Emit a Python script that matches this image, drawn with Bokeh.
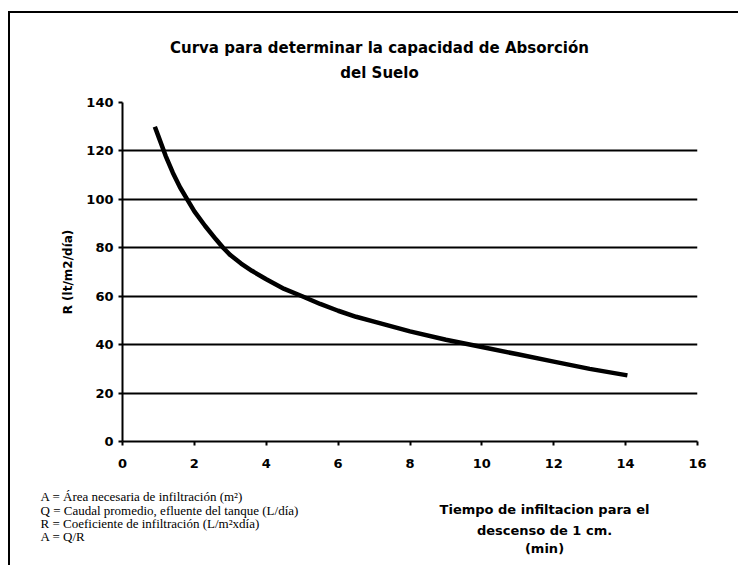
from bokeh.plotting import figure
from bokeh.models import Range1d, FixedTicker
from bokeh.layouts import column
from bokeh.core.properties import value
from bokeh.embed import file_html
from bokeh.resources import INLINE

# Data
tiempo = [0.9, 1.0, 1.2, 1.4, 1.6, 1.8, 2.0, 2.3, 2.6, 2.8, 3.0, 3.3, 3.6, 4.0, 4.5, 5.0, 5.5, 6.0,
          6.5, 7.0, 8.0, 9.0, 10.0, 11.0, 12.0, 13.0, 14.05]
coef_r = [130, 126, 118, 111, 105, 100, 95, 89, 83.5, 80, 77, 73.5, 70.5, 67, 63, 60, 56.8, 54,
          51.5, 49.5, 45.5, 42, 39, 36, 33, 30, 27.3]

x_ticks = [0, 2, 4, 6, 8, 10, 12, 14, 16]
y_ticks = [0, 20, 40, 60, 80, 100, 120, 140]
grid_ticks = [20, 40, 60, 80, 100, 120]

title_lines = ["Curva para determinar la capacidad de Absorción", "del Suelo"]
x_title_lines = ["Tiempo de infiltacion para el", "descenso de 1 cm.", "(min)"]
y_title = "R (lt/m2/día)"
notas = [
    "A = Área necesaria de infiltración (m²)",
    "Q = Caudal promedio, efluente del tanque (L/día)",
    "R = Coeficiente de infiltración (L/m²xdía)",
    "A = Q/R",
]

W = 728
TOP_H, MAIN_H, BOT_H = 75, 392, 85
SANS = "DejaVu Sans"


def blank(h):
    f = figure(width=W, height=h, output_backend="svg", toolbar_location=None,
               x_range=Range1d(0, W), y_range=Range1d(h, 0), min_border=0,
               frame_align=False)
    f.axis.visible = False
    f.grid.visible = False
    f.outline_line_color = None
    f.background_fill_color = "white"
    f.border_fill_color = "white"
    return f


# ---- title panel
top = blank(TOP_H)
top.text(x=[369, 369], y=[34, 59], text=title_lines, text_align="center",
         text_baseline="middle", text_font=value(SANS),
         text_font_style="bold", text_font_size="15px", text_color="black")

# ---- main chart
p = figure(width=W, height=MAIN_H, output_backend="svg", toolbar_location=None,
           x_range=Range1d(0, 16), y_range=Range1d(0, 140), frame_align=False,
           min_border_left=112, min_border_right=41, min_border_top=14, min_border_bottom=39)
p.outline_line_color = None
p.background_fill_color = "white"
p.border_fill_color = "white"

p.xgrid.visible = False
p.ygrid.ticker = FixedTicker(ticks=grid_ticks)
p.ygrid.grid_line_color = "black"
p.ygrid.grid_line_width = 2

p.xaxis.ticker = FixedTicker(ticks=x_ticks)
p.yaxis.ticker = FixedTicker(ticks=y_ticks)
for ax in (p.xaxis, p.yaxis):
    ax.axis_line_color = "black"
    ax.axis_line_width = 2
    ax.major_tick_line_color = "black"
    ax.major_tick_line_width = 2
    ax.major_tick_in = 0
    ax.major_tick_out = 4
    ax.minor_tick_line_color = None
    ax.major_label_text_font = SANS
    ax.major_label_text_font_style = "bold"
    ax.major_label_text_color = "black"
    ax.major_label_text_font_size = "13px"
p.xaxis.major_label_standoff = 13
p.yaxis.major_label_standoff = 5

p.yaxis.axis_label = y_title
p.yaxis.axis_label_text_font = SANS
p.yaxis.axis_label_text_font_style = "bold"
p.yaxis.axis_label_text_font_size = "12px"
p.yaxis.axis_label_text_color = "black"
p.yaxis.axis_label_standoff = 8

p.line(tiempo, coef_r, line_color="black", line_width=4.5)

# ---- bottom panel
bot = blank(BOT_H)
bot.text(x=[30] * 4, y=[16, 30, 43, 56], text=notas, text_align="left",
         text_baseline="middle", text_font=value("Liberation Serif"),
         text_font_size="13px", text_color="black")
bot.text(x=[534] * 3, y=[29, 50, 68], text=x_title_lines, text_align="center",
         text_baseline="middle", text_font=value(SANS),
         text_font_style="bold", text_font_size="13px", text_color="black")

layout = column(top, p, bot, spacing=0,
                styles={"margin-left": "8px", "margin-top": "11px",
                        "border-left": "2px solid black", "border-top": "2px solid black"})

open("out.html", "w").write(file_html(layout, INLINE))
